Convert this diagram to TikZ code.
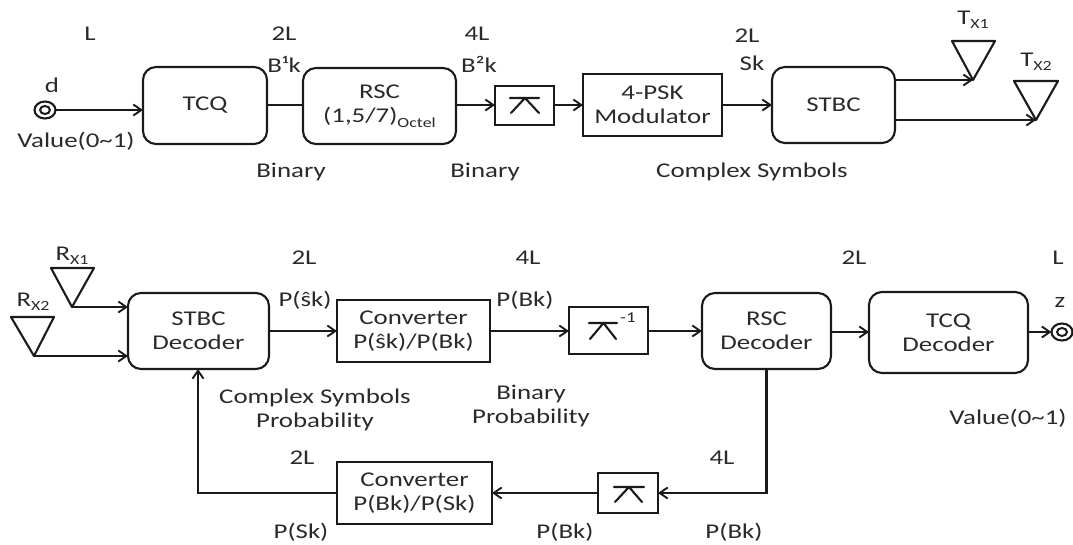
\documentclass[tikz,border=0pt]{standalone}
\usepackage{fontspec}
\setmainfont[FakeStretch=1.28]{Carlito}
\usetikzlibrary{arrows.meta,shapes.geometric}
\definecolor{ink}{HTML}{1A1A1A}
\definecolor{txt}{HTML}{2A2A2A}
\newcommand{\subtx}[1]{\raisebox{-0.45ex}{\fontsize{14}{14}\selectfont #1}}
\tikzset{
  x=1pt,y=-1pt,
  every node/.style={inner sep=0pt,outer sep=0pt,text=txt,font=\fontsize{21}{24}\selectfont},
  lbl/.style={align=center},
  sq/.style={draw=ink,line width=2.1pt,align=center},
  rnd/.style={sq,rounded corners=13pt},
  conn/.style={draw=ink,line width=2.1pt},
  arr/.style={conn,-{Straight Barb[length=8pt,width=11pt,line width=1.9pt]}},
  port/.style={draw=ink,line width=2.1pt,ellipse,minimum width=21pt,minimum height=17pt},
  portin/.style={draw=ink,line width=2pt,ellipse,minimum width=10pt,minimum height=8pt},
  sym/.style={conn,line cap=round,line join=round},
}
\newcommand{\boxat}[7]{\node[#1,minimum width=#5-#3,minimum height=#6-#4] (#2) at ({(#3+#5)/2},{(#4+#6)/2}) {#7};}
\begin{document}
\begin{tikzpicture}
\useasboundingbox (0,0) rectangle (1073,544);
% top row boxes
\boxat{rnd}{tcq}{143}{67}{267}{144}{TCQ}
\boxat{rnd}{rsc}{303}{68}{456}{144}{RSC\\(1,5/7)\subtx{Octel}}
\boxat{sq}{int}{495}{86}{554}{125}{}
\boxat{sq}{psk}{583}{74}{722}{136}{4-PSK\\Modulator}
\boxat{rnd}{stbc}{772}{67}{895}{143}{STBC}
\node[port] (d) at (45,110) {};
\node[portin] (din) at (45,110) {};
\coordinate (tx1) at (973,80);
\coordinate (tx2) at (1036,120);
\draw[conn,line join=round] (tx1) -- (952,41) -- (995,41) -- cycle;
\draw[conn,line join=round] (tx2) -- (1014,81) -- (1058,81) -- cycle;
% interleaver symbol
\draw[sym] (510,98) -- (539,98) (511,113) -- (525,98) -- (539,113);
% top connectors
\coordinate (r1) at (0,105);
\draw[arr] (d) -- (tcq.west |- d);
\draw[conn] (tcq.east |- r1) -- (rsc.west |- r1);
\draw[arr] (rsc.east |- r1) -- (int.west |- r1);
\draw[arr] (int.east |- r1) -- (psk.west |- r1);
\draw[arr] (psk.east |- r1) -- (stbc.west |- r1);
\draw[arr] (stbc.east |- tx1) -- (tx1);
\draw[arr] (stbc.east |- tx2) -- (tx2);
% top labels
\node[lbl] (l1) at (90,34) {L};
\node[lbl] (l2) at (284,34) {2L};
\node[lbl] (l3) at (477,34) {4L};
\node[lbl] (l4) at (747,36) {2L};
\node[lbl] (b1) at (284,64) {B¹k};
\node[lbl] (b2) at (479,64) {B²k};
\node[lbl] (sk) at (752,63) {Sk};
\node[lbl] (dl) at (52,85) {d};
\node[lbl] (v1) at (76,141) {Value(0\textasciitilde1)};
\node[lbl] (bn1) at (291,172) {Binary};
\node[lbl] (bn2) at (485,172) {Binary};
\node[lbl] (cs) at (752,172) {Complex Symbols};
\node[lbl] (tx1l) at (973,20) {T\subtx{X1}};
\node[lbl] (tx2l) at (1036,62) {T\subtx{X2}};
% bottom row boxes
\boxat{rnd}{sdec}{128}{293}{269}{369}{STBC\\Decoder}
\boxat{sq}{conv1}{337}{300}{490}{362}{Converter\\P(ŝk)/P(Bk)}
\boxat{sq}{dint}{569}{307}{648}{354}{}
\boxat{rnd}{rdec}{702}{293}{831}{369}{RSC\\Decoder}
\boxat{rnd}{tdec}{869}{292}{1028}{373}{TCQ\\Decoder}
\boxat{sq}{int2}{598}{473}{658}{513}{}
\boxat{sq}{conv2}{337}{462}{492}{524}{Converter\\P(Bk)/P(Sk)}
\node[port] (z) at (1062,332) {};
\node[portin] (zin) at (1062,332) {};
\coordinate (rx1) at (72,307);
\coordinate (rx2) at (34,356);
\draw[conn,line join=round] (rx1) -- (51,268) -- (94,268) -- cycle;
\draw[conn,line join=round] (rx2) -- (11,317) -- (54,317) -- cycle;
% symbols
\draw[sym] (589,323) -- (617,323) (590,339) -- (603.5,323) -- (616,339);
\draw[sym] (614,487) -- (644,487) (615,502) -- (629,487) -- (642,502);
% bottom connectors
\coordinate (r2) at (0,331);
\coordinate (r3) at (0,493);
\draw[arr] (rx1) -- (sdec.west |- rx1);
\draw[arr] (rx2) -- (sdec.west |- rx2);
\draw[arr] (sdec.east |- r2) -- (conv1.west |- r2);
\draw[arr] (conv1.east |- r2) -- (dint.west |- r2);
\draw[arr] (dint.east |- r2) -- (rdec.west |- r2);
\draw[arr] (rdec.east |- z) -- (tdec.west |- z);
\draw[arr] (tdec.east |- z) -- (z);
\draw[arr] (rdec.south) |- (int2.east |- r3);
\draw[arr] (int2.west |- r3) -- (conv2.east |- r3);
\draw[arr] (conv2.west |- r3) -| (sdec.south -| 198,0);
% bottom labels
\node[lbl] (m1) at (304,258) {2L};
\node[lbl] (m2) at (528,258) {4L};
\node[lbl] (m3) at (854,258) {2L};
\node[lbl] (m4) at (1058,258) {L};
\node[lbl] (rx1l) at (72,256) {R\subtx{X1}};
\node[lbl] (rx2l) at (33,302) {R\subtx{X2}};
\node[lbl] (ps) at (305,300) {P(ŝk)};
\node[lbl] (pb) at (525,300) {P(Bk)};
\node[lbl] (zl) at (1060,302) {z};
\node[lbl] (inv) at (628,318) {\fontsize{15}{15}\selectfont -1};
\node[lbl] (c1) at (315,410) {Complex Symbols\\Probability};
\node[lbl] (c2) at (531,406) {Binary\\Probability};
\node[lbl] (v2) at (1008,418) {Value(0\textasciitilde1)};
\node[lbl] (n2) at (302,458) {2L};
\node[lbl] (n4) at (722,458) {4L};
\node[lbl] (ps2) at (301,532) {P(Sk)};
\node[lbl] (pb2) at (565,532) {P(Bk)};
\node[lbl] (pb3) at (734,532) {P(Bk)};
\end{tikzpicture}
\end{document}
